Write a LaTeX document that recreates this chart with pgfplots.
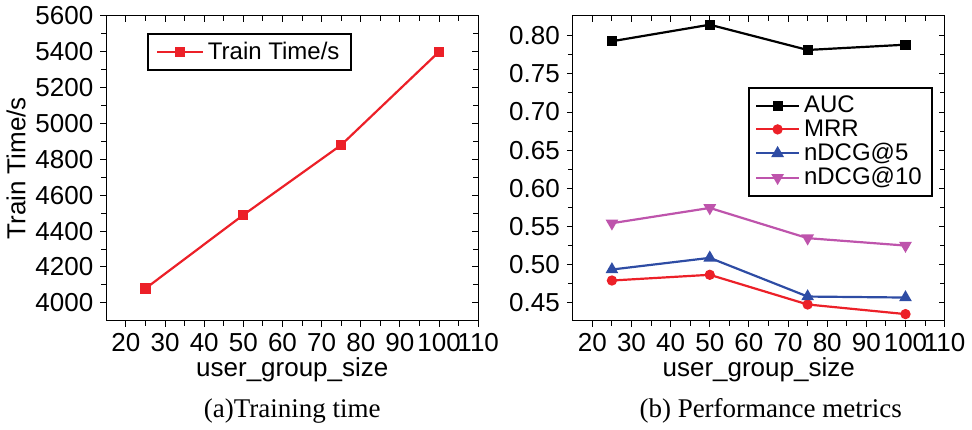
\documentclass[border=0pt]{standalone}
\usepackage{pgfplots}
\pgfplotsset{compat=1.18}
\usepackage{fontspec}
\setmainfont{Liberation Sans}
\newfontfamily\capfont{Liberation Serif}
\definecolor{cred}{RGB}{236,32,40}
\definecolor{cblue}{RGB}{46,76,164}
\definecolor{cpurple}{RGB}{190,84,172}

\pgfplotsset{
  base/.style={
    width=186pt, height=152.5pt, scale only axis,
    xmin=15, xmax=110,
    xtick={20,30,...,110},
    minor x tick num=1,
    tick align=outside,
    major tick length=3pt, minor tick length=2.5pt,
    ticklabel style={font=\fontsize{13}{15}\selectfont},
    /pgf/number format/assume math mode=true,
    label style={font=\fontsize{13}{15}\selectfont},
    axis line style={line width=0.6pt},
    every tick/.style={line width=0.5pt, black},
  },
  frame/.style={
    base, xticklabels={}, yticklabels={},
    xtick pos=top, ytick pos=right, tick align=inside,
    xlabel={}, ylabel={},
  },
  lg/.style={
    legend style={draw=black, line width=1pt, font=\fontsize{12}{13}\selectfont,
      inner sep=2pt, row sep=-2pt},
    legend cell align=left,
  },
}

\begin{document}
\begin{tikzpicture}
% ---- (a) training time
\begin{axis}[base, lg, name=pa,
    ymin=3900, ymax=5600,
    ytick={4000,4200,...,5600},
    minor y tick num=1,
    xtick pos=bottom, ytick pos=left,
    xlabel={user\_group\_size},
    ylabel={Train Time/s},
    xlabel style={yshift=4pt},
    ylabel style={yshift=-2pt},
    /pgf/number format/1000 sep={},
    legend style={at={(0.11,0.944)}, anchor=north west, inner xsep=4pt},
    legend image code/.code={
      \draw[#1] (0cm,0cm) -- (0.8cm,0cm);
      \draw[#1,only marks] plot coordinates {(0.4cm,0cm)};
    },
]
\addplot[cred, line width=1.1pt, mark=square*, mark size=2pt] coordinates {
  (25,4080) (50,4490) (75,4880) (100,5400)
};
\addlegendentry{Train Time/s}
\end{axis}
\begin{axis}[frame, ymin=3900, ymax=5600, ytick={4000,4200,...,5600}, minor y tick num=1]
\end{axis}
\node[font=\capfont\fontsize{13.5}{15}\selectfont] at ([yshift=-45pt]pa.south) {(a)Training time};

% ---- (b) performance metrics
\begin{axis}[base, lg, name=pb, at={(233.3pt,0)},
    ymin=0.4265, ymax=0.826,
    ytick={0.45,0.50,...,0.80},
    yticklabel style={/pgf/number format/.cd, fixed, fixed zerofill, precision=2},
    minor y tick num=1,
    xtick pos=bottom, ytick pos=left,
    xlabel={user\_group\_size},
    xlabel style={yshift=4pt},
    legend style={at={(0.968,0.767)}, anchor=north east, inner xsep=3pt},
    legend image code/.code={
      \draw[#1] (0cm,0cm) -- (0.75cm,0cm);
      \draw[#1,only marks] plot coordinates {(0.375cm,0cm)};
    },
]
\addplot[black, line width=1.1pt, mark=square*, mark size=2pt] coordinates {
  (25,0.7927) (50,0.8144) (75,0.7813) (100,0.7882)
};
\addlegendentry{AUC}
\addplot[cred, line width=1.1pt, mark=*, mark size=2pt] coordinates {
  (25,0.4792) (50,0.4867) (75,0.4478) (100,0.4352)
};
\addlegendentry{MRR}
\addplot[cblue, line width=1.1pt, mark=triangle*, mark size=2.6pt] coordinates {
  (25,0.4936) (50,0.5089) (75,0.4582) (100,0.4569)
};
\addlegendentry{nDCG@5}
\addplot[cpurple, line width=1.1pt, mark=triangle*, mark size=2.6pt, mark options={rotate=180}] coordinates {
  (25,0.5543) (50,0.5743) (75,0.5347) (100,0.5250)
};
\addlegendentry{nDCG@10}
\end{axis}
\begin{axis}[frame, at={(233.3pt,0)}, ymin=0.4265, ymax=0.826, ytick={0.45,0.50,...,0.80}, minor y tick num=1]
\end{axis}
\node[font=\capfont\fontsize{13.5}{15}\selectfont] at ([xshift=6pt,yshift=-45pt]pb.south) {(b) Performance metrics};
\end{tikzpicture}
\end{document}
